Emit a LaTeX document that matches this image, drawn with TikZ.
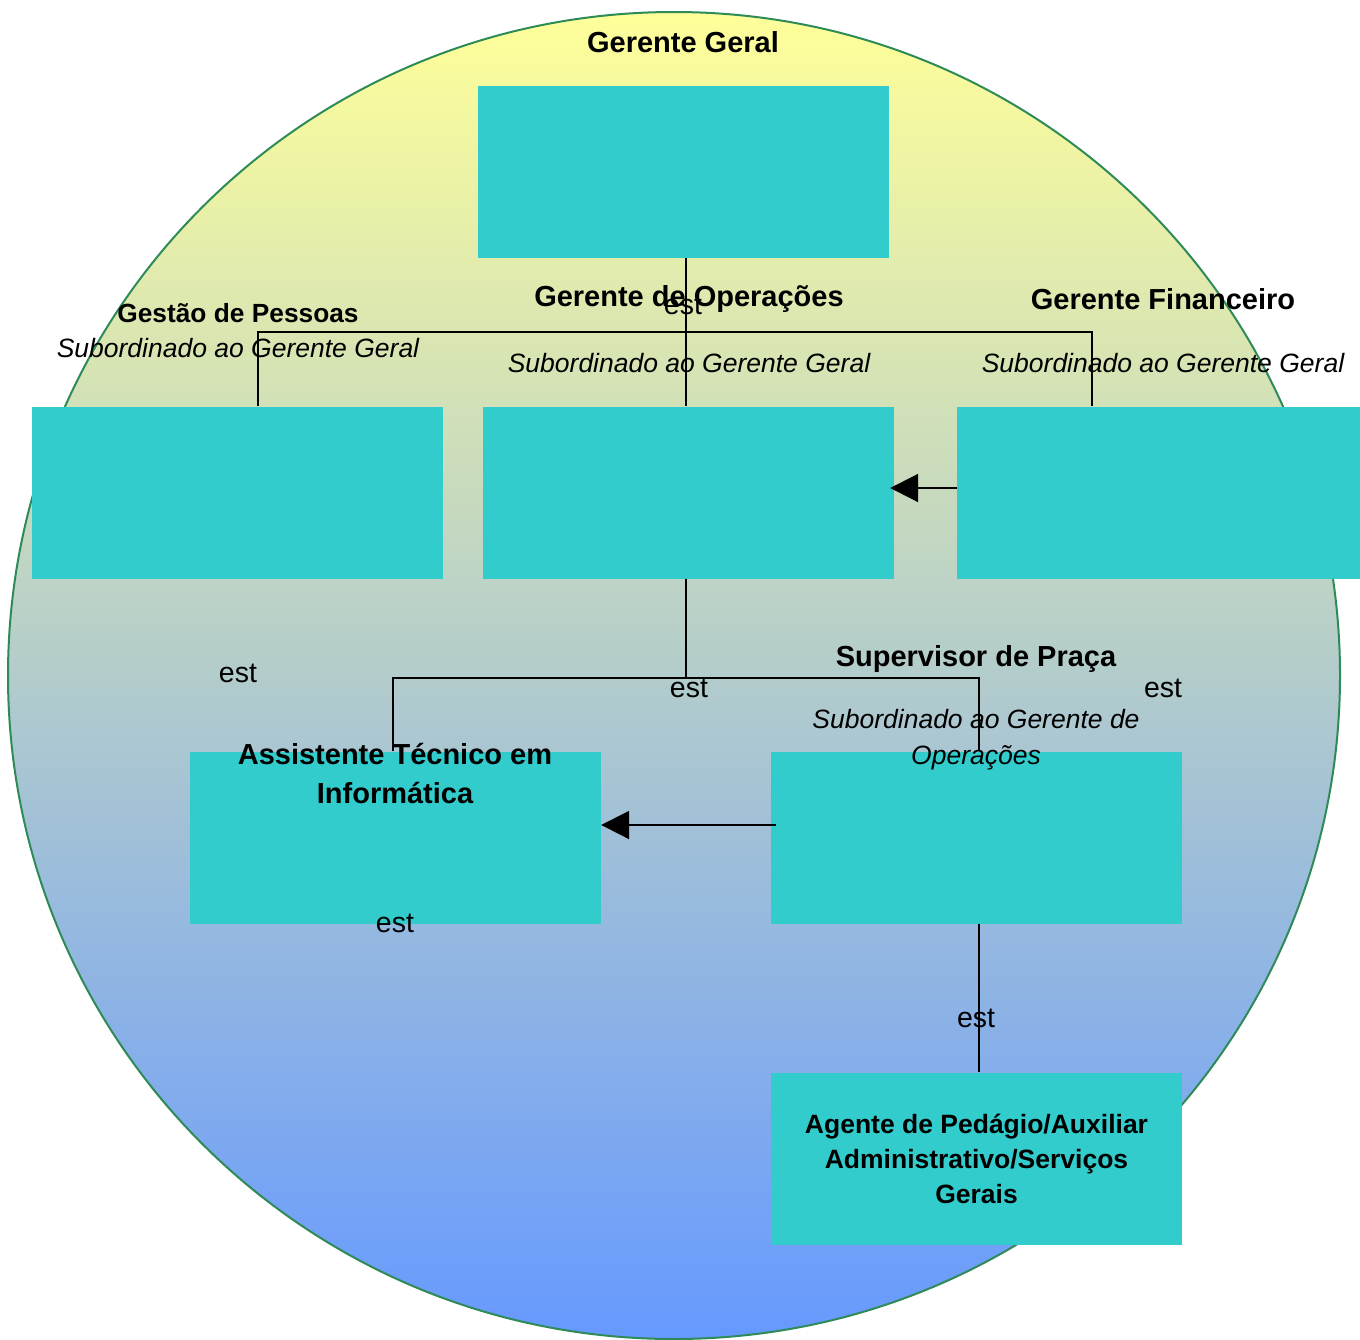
\documentclass[tikz,border=0pt]{standalone}
\usepackage{fontspec}
\setmainfont{Liberation Sans}
\usetikzlibrary{arrows.meta}
\definecolor{boxteal}{RGB}{51,204,204}
\definecolor{topyellow}{RGB}{255,255,153}
\definecolor{botblue}{RGB}{102,153,255}
\definecolor{rimgreen}{RGB}{46,139,87}

\begin{document}
\begin{tikzpicture}[x=1pt, y=-1pt,
    box/.style={fill=boxteal, minimum width=411pt, minimum height=172pt, inner sep=0pt, align=center},
    title/.style={font=\fontsize{29}{39}\selectfont\bfseries, align=center, inner sep=0pt},
    sub/.style={font=\fontsize{26.5}{36}\selectfont\itshape, align=center, inner sep=0pt},
    lbl/.style={font=\fontsize{28.5}{34}\selectfont, inner sep=0pt},
    link/.style={line width=2pt},
    tip/.style={link, -{Triangle[length=28pt,width=28pt]}}]
    \useasboundingbox (0,0) rectangle (1360,1339);
    % Background
    \shade[top color=topyellow, bottom color=botblue, draw=rimgreen, line width=2pt]
        (674,675.5) ellipse [x radius=666pt, y radius=663.5pt];
    % Boxes
    \foreach \name/\x/\y in {gg/683/172, pessoas/237.5/492.5, ops/688.5/492.5, fin/1162.5/492.5, assist/395.5/837.5, superv/976.5/837.5} {
        \node[box] (\name) at (\x,\y) {};
    }
    \node[box, font=\fontsize{26.5}{35}\selectfont\bfseries] (agente) at (976.5,1158.5) {Agente de Pedágio/Auxiliar\\Administrativo/Serviços\\Gerais};
    % Titles
    \node[title] (gg-title) at (683,42) {Gerente Geral};
    \node[title, font=\fontsize{26.3}{35}\selectfont\bfseries] (pessoas-title) at (238,313) {Gestão de Pessoas};
    \node[sub] (pessoas-sub) at (238,348) {Subordinado ao Gerente Geral};
    \node[title] (ops-title) at (689,299) {Gerente de Operações};
    \node[sub] (ops-sub) at (689,363) {Subordinado ao Gerente Geral};
    \node[title] (fin-title) at (1163,299) {Gerente Financeiro};
    \node[sub] (fin-sub) at (1163,363) {Subordinado ao Gerente Geral};
    \node[title] (superv-title) at (976,659) {Supervisor de Praça};
    \node[sub] (superv-sub) at (976,740) {Subordinado ao Gerente de\\Operações};
    \node[title] (assist-title) at (395,773) {Assistente Técnico em\\Informática};
    % Labels
    \foreach \i/\x/\y in {1/683/305, 2/238/673, 3/689/688, 4/1163/688, 5/395/923, 6/976/1018} {
        \node[lbl] (est-\i) at (\x,\y) {est};
    }
    % Connectors
    \coordinate (bus-top) at (686,332);
    \coordinate (bus-mid) at (686,678);
    \draw[link] (gg.south -| bus-top) -- (ops.north -| bus-top);
    \draw[link] ([xshift=20.5pt]pessoas.north) |- (bus-top) -| ([xshift=-70.5pt]fin.north);
    \draw[tip] ([yshift=4.5pt]fin.west) -- ([xshift=-4pt, yshift=4.5pt]ops.east);
    \draw[link] (ops.south -| bus-mid) -- (bus-mid);
    \draw[link] ([xshift=-2.5pt]assist.north) |- (bus-mid) -| ([xshift=2.5pt]superv.north);
    \draw[tip] ([xshift=5pt, yshift=12.5pt]superv.west) -- ([yshift=12.5pt]assist.east);
    \draw[link] ([xshift=2.5pt]superv.south) -- ([xshift=2.5pt]agente.north);
\end{tikzpicture}
\end{document}
